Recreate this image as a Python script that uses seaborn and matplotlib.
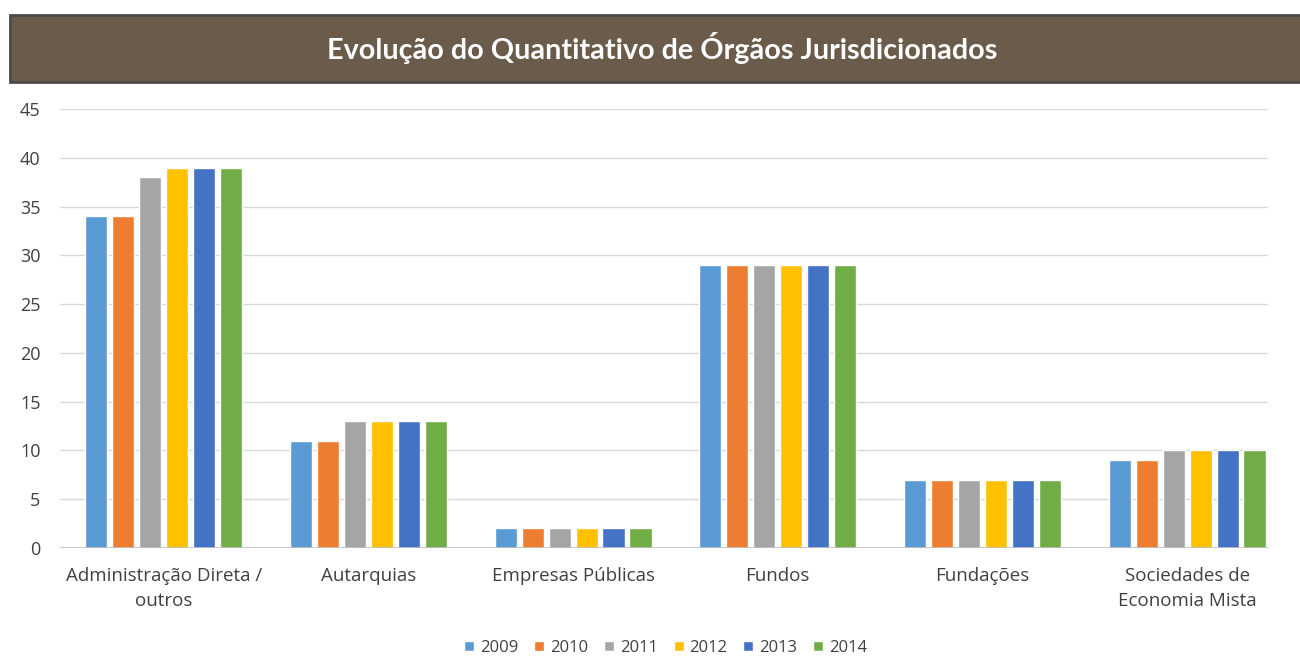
import pandas as pd
import matplotlib.pyplot as plt
import seaborn as sns
from matplotlib.patches import Rectangle

categories = ["Administração Direta /\noutros", "Autarquias", "Empresas Públicas",
              "Fundos", "Fundações", "Sociedades de\nEconomia Mista"]
years = ["2009", "2010", "2011", "2012", "2013", "2014"]
values = {
    "2009": [34, 11, 2, 29, 7, 9],
    "2010": [34, 11, 2, 29, 7, 9],
    "2011": [38, 13, 2, 29, 7, 10],
    "2012": [39, 13, 2, 29, 7, 10],
    "2013": [39, 13, 2, 29, 7, 10],
    "2014": [39, 13, 2, 29, 7, 10],
}
colors = ["#5B9BD5", "#ED7D31", "#A5A5A5", "#FFC000", "#4472C4", "#70AD47"]

rows = []
for y in years:
    for c, v in zip(categories, values[y]):
        rows.append({"categoria": c, "ano": y, "valor": v})
df = pd.DataFrame(rows)

sns.set_style("white")
plt.rcParams['font.family'] = ['Open Sans', 'DejaVu Sans']

fig = plt.figure(figsize=(13, 6.57), dpi=100)
ax = fig.add_axes([60 / 1300, 1 - 548 / 657, 1208 / 1300, 439 / 657])

sns.barplot(data=df, x="categoria", y="valor", hue="ano", palette=colors,
            width=0.79, gap=0.18, ax=ax, legend=True, saturation=1)

ax.set_ylim(0, 45)
ax.set_yticks(range(0, 46, 5))
ax.set_xlim(-0.507, 5.395)
ax.yaxis.grid(True, color="#D9D9D9", linewidth=1)
ax.set_axisbelow(True)
ax.axhline(0, color="#BFBFBF", linewidth=1.2)
sns.despine(ax=ax, left=True, bottom=True)
ax.set_xlabel("")
ax.set_ylabel("")
ax.tick_params(axis="y", length=0, labelsize=13, colors="#404040", pad=14)
ax.tick_params(axis="x", length=0, labelsize=13.5, colors="#404040", pad=14)
for t in ax.get_xticklabels():
    t.set_linespacing(1.45)

handles, labels = ax.get_legend_handles_labels()
ax.get_legend().remove()
fig.legend(handles, labels, loc="center", bbox_to_anchor=(0.512, 1 - 648 / 657),
           ncol=6, frameon=False, fontsize=12, handlelength=0.6, handleheight=0.6,
           handletextpad=0.35, columnspacing=0.95, labelcolor="#404040")

# title bar
fig.patches.append(Rectangle((10 / 1300, 1 - 82 / 657), 1.0, 67 / 657,
                             transform=fig.transFigure, facecolor="#6B5B4A",
                             edgecolor="#4A4A4A", linewidth=2, zorder=0))
fig.text(0.509, 1 - 48 / 657, "Evolução do Quantitativo de Órgãos Jurisdicionados",
         ha="center", va="center", color="white", fontsize=20.7, fontweight="bold",
         family=["Lato", "DejaVu Sans"])

fig.savefig("out.png", dpi=100)
